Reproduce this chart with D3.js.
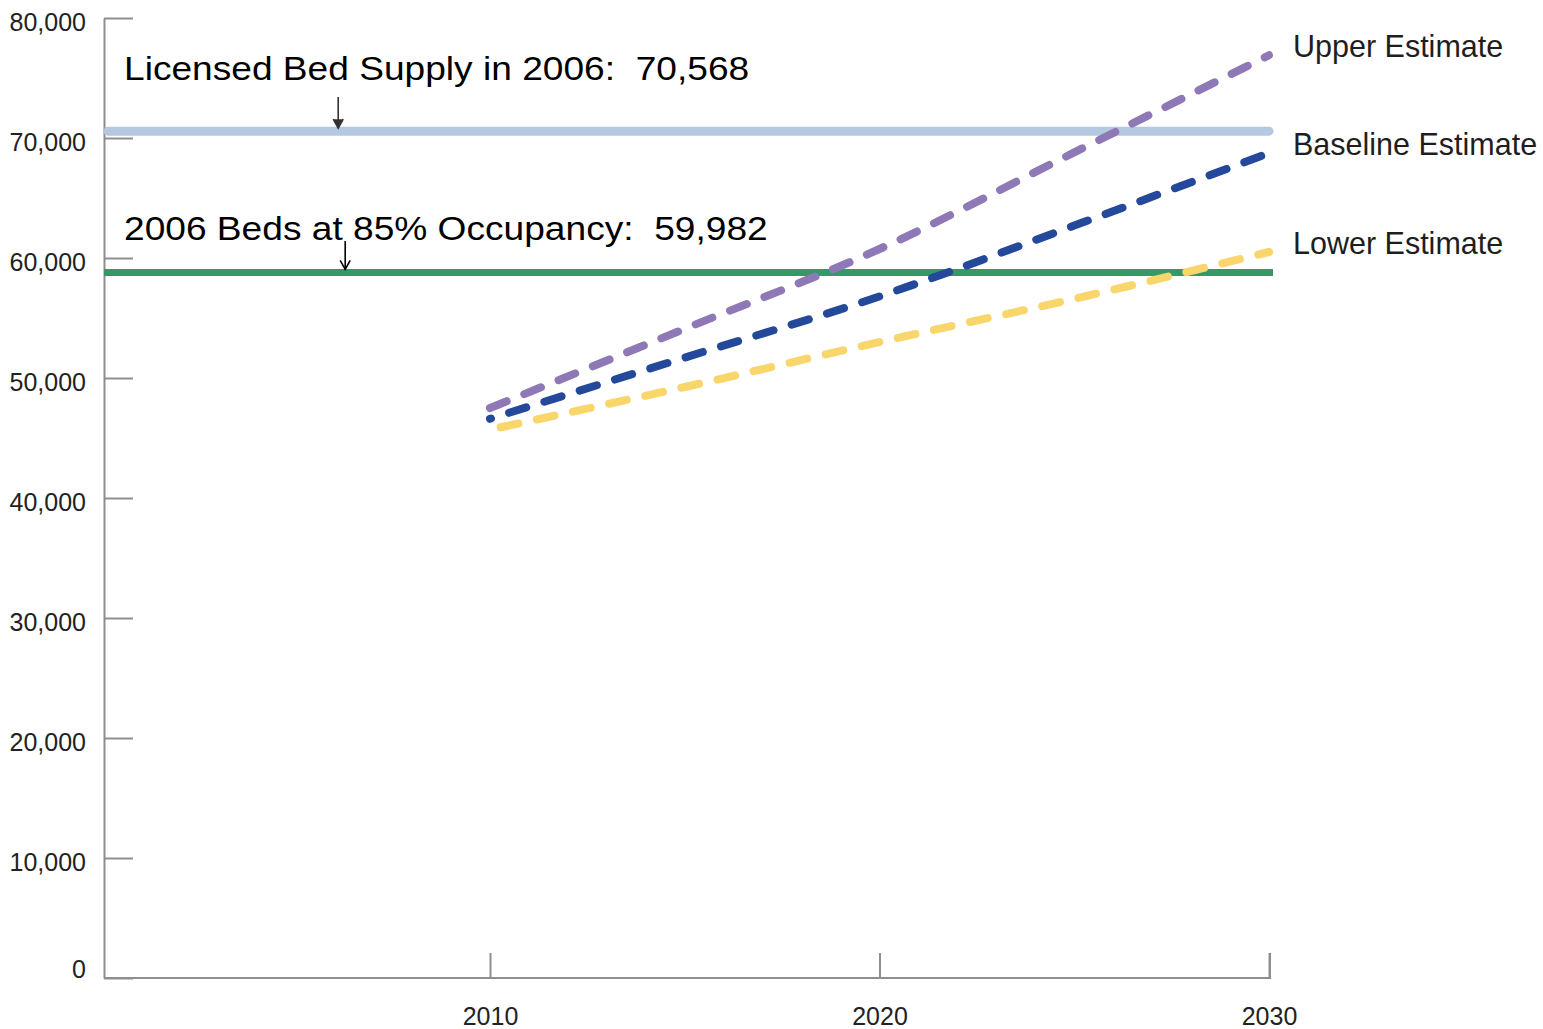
<!DOCTYPE html>
<html lang="en">
<head>
    <meta charset="UTF-8">
    <title>Bed Supply vs Projected Demand</title>
    <script src="https://cdn.jsdelivr.net/npm/d3@7/dist/d3.min.js"></script>
</head>
<body>
<style>
    body {
        margin: 0;
        background-color: white;
    }

    svg {
        display: block;
        font-family: "Liberation Sans", Arial, sans-serif;
    }

    .axis path,
    .axis line {
        fill: none;
        stroke: #8e8e8e;
        stroke-width: 2;
    }

    .axis text {
        font-size: 25px;
        fill: #222;
    }
</style>

<svg width="1543" height="1029"></svg>

<script>
    // data
    var years = [2010, 2015, 2020, 2025, 2030];
    var upperEstimate = [47500, 54100, 60750, 68800, 76900];
    var baselineEstimate = [46600, 51700, 56800, 62700, 68750];
    var lowerEstimate = [45700, 49250, 53000, 56600, 60500];
    var seriesNames = ["Upper Estimate", "Baseline Estimate", "Lower Estimate"];
    var seriesColors = ["#8f78b6", "#24489a", "#f8d66c"];

    var licensedBeds = 70568;      // light blue reference line
    var occupancyBedsDrawn = 58800; // green line, as drawn (label reads 59,982)
    var annotationYear = 2006;
    var annotationTexts = ["Licensed Bed Supply in 2006:  70,568", "2006 Beds at 85% Occupancy:  59,982"];

    var yTicks = [0, 10000, 20000, 30000, 40000, 50000, 60000, 70000, 80000];
    var xTicks = [2010, 2020, 2030];

    var svg = d3.select("svg");
    var axisLeftX = 104;

    var x = d3.scaleLinear()
            .domain([2000, 2030])
            .range([100.5, 1269]);
    var y = d3.scaleLinear()
            .domain([0, 80000])
            .range([978, 18]);

    // axes
    var axisY = d3.axisLeft(y)
            .tickValues(yTicks)
            .tickSizeInner(-29)
            .tickSizeOuter(0)
            .tickPadding(18)
            .tickFormat(d3.format(","));
    var gy = svg.append("g")
            .attr("class", "axis")
            .attr("transform", "translate(" + axisLeftX + ",0)")
            .call(axisY);
    gy.selectAll("text")
            .attr("dy", function (d) {
                return d === 0 ? "-0.02em" : "0.48em";
            });

    var axisX = d3.axisBottom(x)
            .tickValues(xTicks)
            .tickSizeInner(-25)
            .tickSizeOuter(0)
            .tickPadding(29)
            .tickFormat(d3.format("d"));
    var gx = svg.append("g")
            .attr("class", "axis")
            .attr("transform", "translate(0," + y(0) + ")")
            .call(axisX);
    gx.select(".domain")
            .attr("d", "M" + axisLeftX + ",0H" + (x(2030) + 1) + "V-25");

    // reference lines
    svg.append("line")
            .attr("x1", axisLeftX + 4)
            .attr("x2", x(2030))
            .attr("y1", y(licensedBeds))
            .attr("y2", y(licensedBeds))
            .attr("stroke", "#b4c8e0")
            .attr("stroke-width", 9)
            .attr("stroke-linecap", "round");
    svg.append("line")
            .attr("x1", axisLeftX)
            .attr("x2", x(2030) + 4)
            .attr("y1", y(occupancyBedsDrawn))
            .attr("y2", y(occupancyBedsDrawn))
            .attr("stroke", "#339966")
            .attr("stroke-width", 7);

    // estimate lines
    var series = [upperEstimate, baselineEstimate, lowerEstimate];
    var dashOffsets = [0, 17, 26];
    var line = d3.line()
            .x(function (d, i) {
                return x(years[i]);
            })
            .y(function (d) {
                return y(d);
            })
            .curve(d3.curveMonotoneX);

    svg.selectAll(".estimate")
            .data(series)
            .enter()
            .append("path")
            .attr("class", "estimate")
            .attr("d", line)
            .attr("fill", "none")
            .attr("stroke", function (d, i) {
                return seriesColors[i];
            })
            .attr("stroke-width", 8)
            .attr("stroke-linecap", "round")
            .attr("stroke-dasharray", "18 19")
            .attr("stroke-dashoffset", function (d, i) {
                return dashOffsets[i];
            });

    // series labels at the right end
    svg.selectAll(".seriesLabel")
            .data(series)
            .enter()
            .append("text")
            .attr("class", "seriesLabel")
            .attr("x", x(2030) + 24)
            .attr("y", function (d) {
                return y(d[d.length - 1]) + 2;
            })
            .style("font-size", "30.5px")
            .style("fill", "#1e1e1e")
            .text(function (d, i) {
                return seriesNames[i];
            });

    // annotations with arrows
    var annotationValues = [licensedBeds, occupancyBedsDrawn];
    var annotationBaselines = [80, 240];
    var arrowShift = [4, 11];
    annotationTexts.forEach(function (t, i) {
        svg.append("text")
                .attr("transform", "translate(124," + annotationBaselines[i] + ") scale(1.125,1)")
                .style("font-size", "33px")
                .style("fill", "black")
                .style("white-space", "pre")
                .text(t);

        var ax = x(annotationYear) + arrowShift[i];
        var tipY = y(annotationValues[i]) - 3;
        var topY = i === 0 ? 97 : 241;
        svg.append("line")
                .attr("x1", ax)
                .attr("x2", ax)
                .attr("y1", topY)
                .attr("y2", tipY)
                .attr("stroke", i === 0 ? "#333" : "black")
                .attr("stroke-width", 1.6);
        svg.append("path")
                .attr("d", "M" + (ax - 5) + "," + (tipY - 9) + "L" + ax + "," + tipY + "L" + (ax + 5) + "," + (tipY - 9))
                .attr("fill", i === 0 ? "#333" : "none")
                .attr("stroke", i === 0 ? "#333" : "black")
                .attr("stroke-width", 1.6);
    });
</script>
</body>
</html>
